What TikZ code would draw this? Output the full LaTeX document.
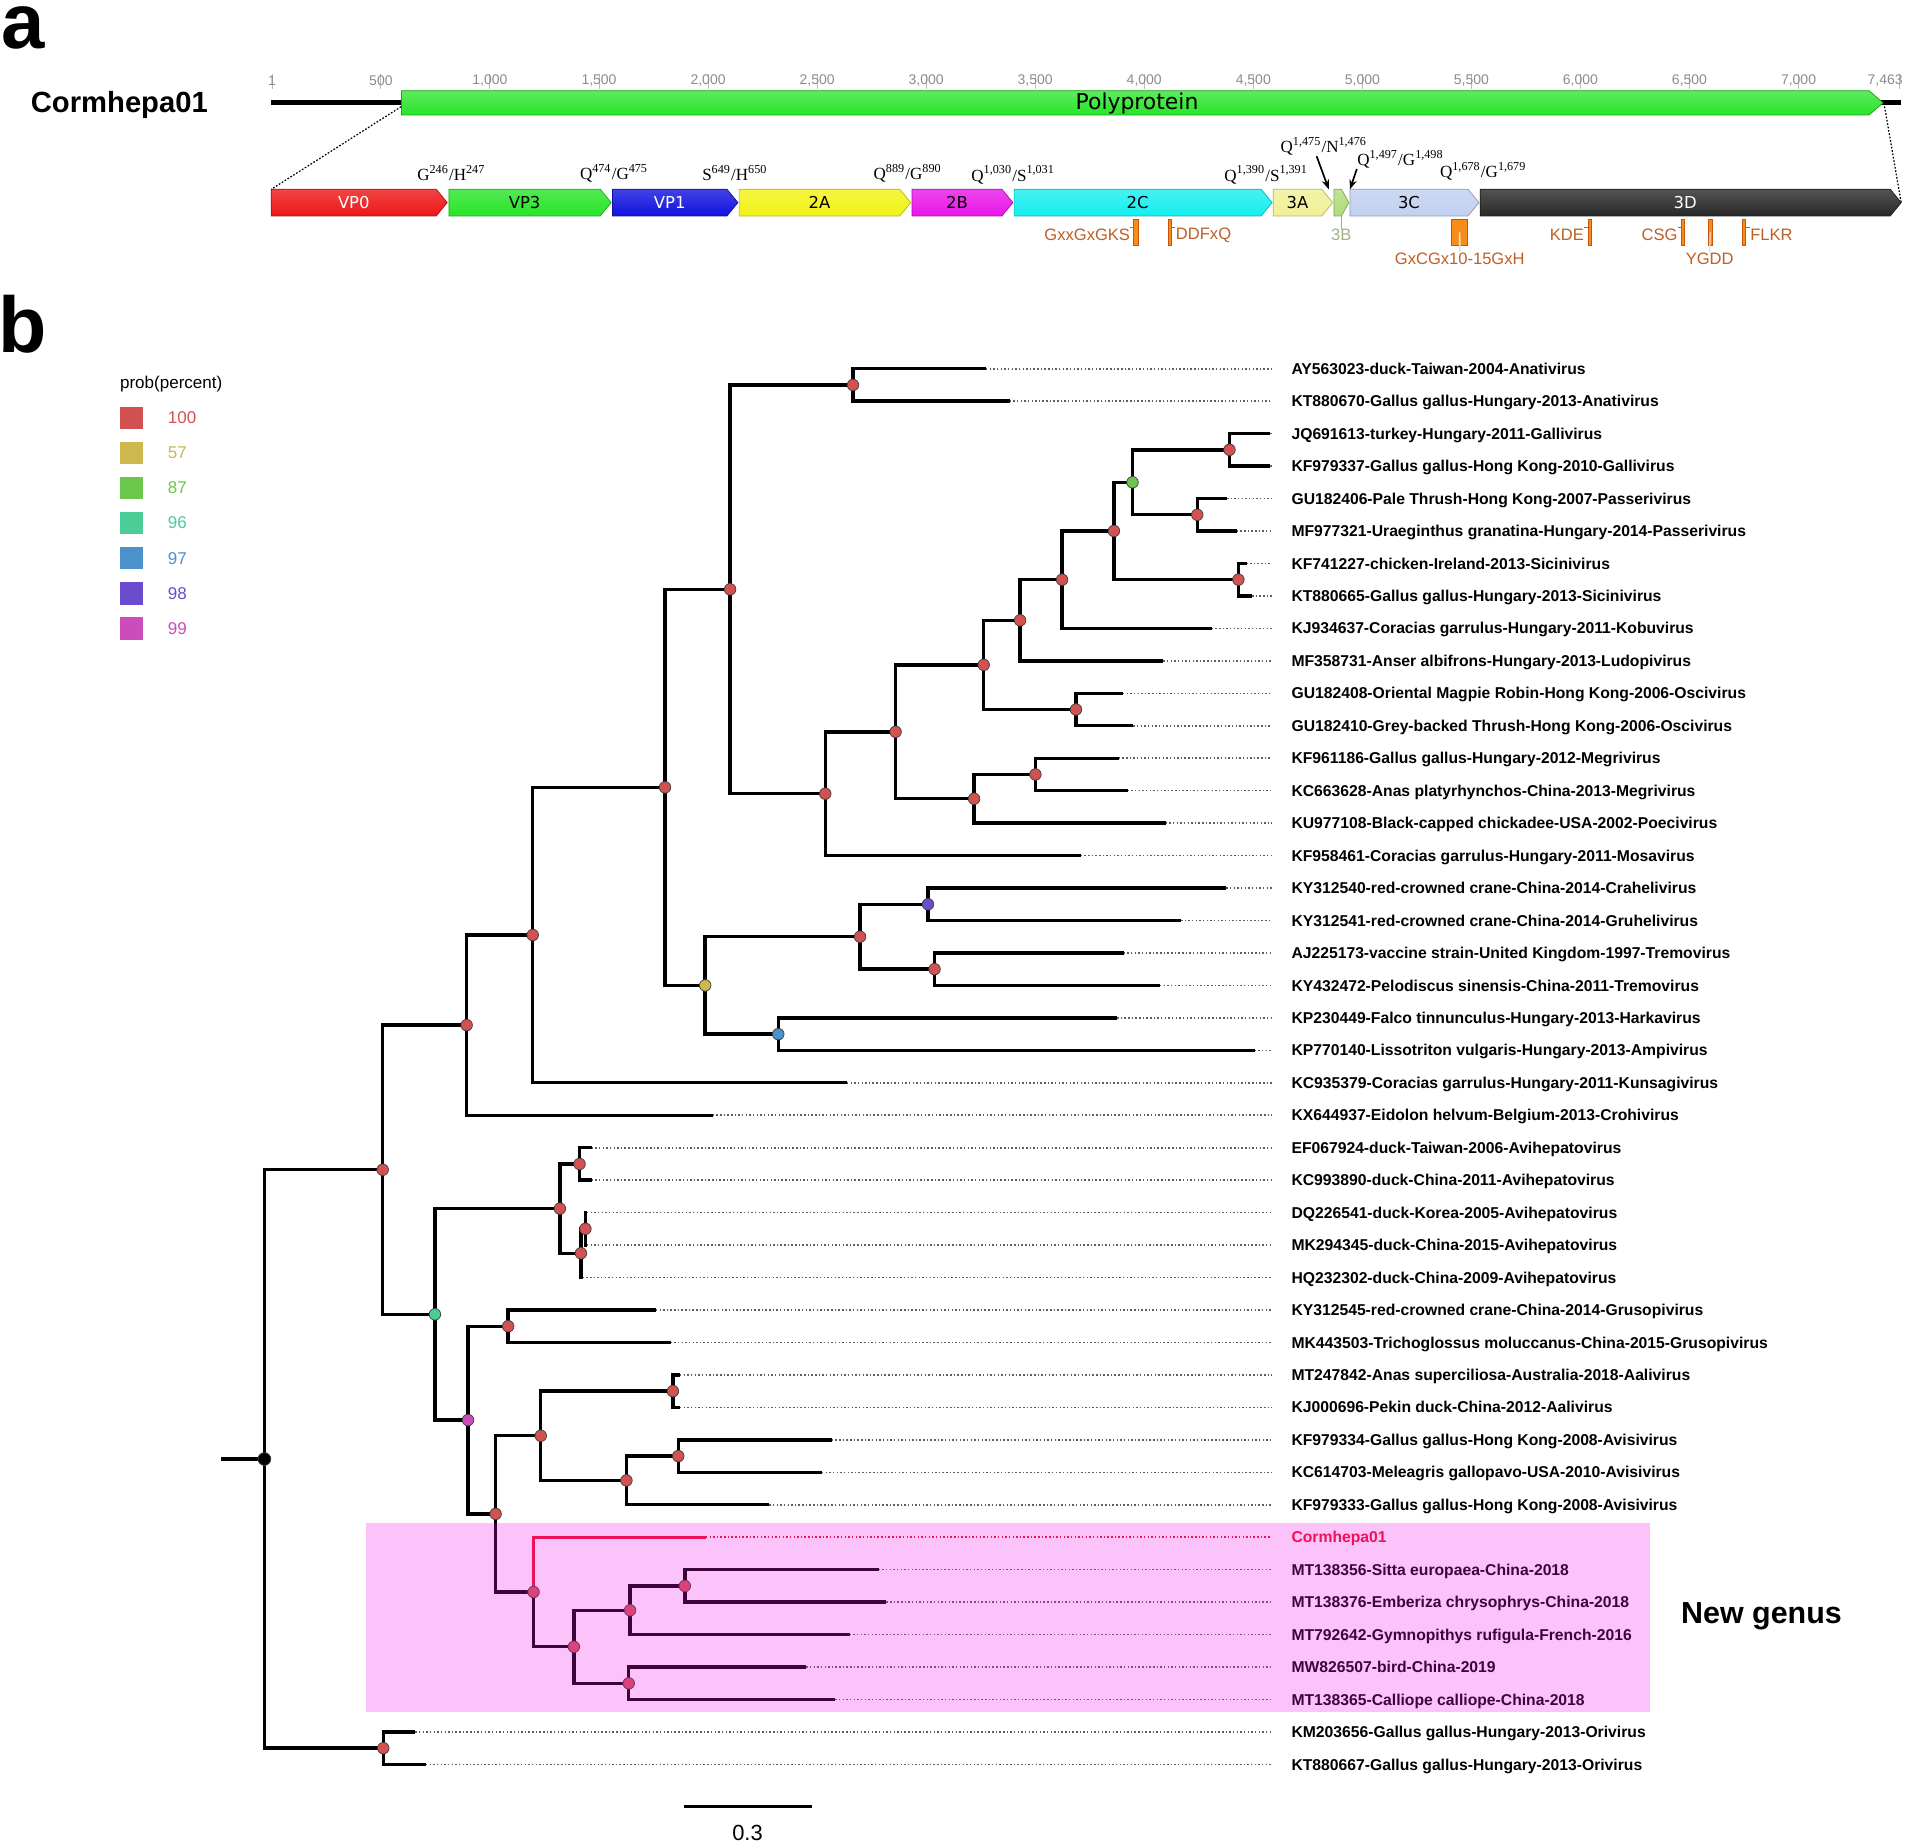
\documentclass[tikz,border=0pt]{standalone}
\usepackage{fontspec}
\setmainfont{Liberation Sans}
\newfontfamily\dvs{DejaVu Sans}
\newfontfamily\tms{Liberation Serif}
\usetikzlibrary{arrows.meta,calc}
\definecolor{c100}{RGB}{210,82,82}
\definecolor{c57}{RGB}{204,184,76}
\definecolor{c87}{RGB}{108,200,76}
\definecolor{c96}{RGB}{76,204,150}
\definecolor{c97}{RGB}{76,144,204}
\definecolor{c98}{RGB}{106,76,204}
\definecolor{c99}{RGB}{204,76,187}
\definecolor{motif}{RGB}{190,95,35}
\definecolor{mbarfill}{RGB}{248,140,25}
\definecolor{mbardraw}{RGB}{200,85,10}
\definecolor{cormred}{RGB}{235,20,40}
\definecolor{pinkov}{RGB}{243,19,235}
\definecolor{dotgray}{RGB}{95,95,95}
\definecolor{tickgray}{RGB}{140,140,140}
\definecolor{sVP0}{RGB}{236,22,22}
\definecolor{sVP3}{RGB}{40,228,40}
\definecolor{sVP1}{RGB}{18,18,222}
\definecolor{s2A}{RGB}{242,242,20}
\definecolor{s2B}{RGB}{232,22,232}
\definecolor{s2C}{RGB}{22,238,238}
\definecolor{s3A}{RGB}{240,240,150}
\definecolor{s3B}{RGB}{175,220,120}
\definecolor{s3C}{RGB}{192,208,240}
\definecolor{s3D}{RGB}{40,40,40}
\definecolor{polyg}{RGB}{40,228,40}
\definecolor{lab3B}{RGB}{160,178,130}
\newcommand{\fsz}[1]{\fontsize{#1}{#1}\selectfont}
\newcommand{\gseg}[7]{%
  \path[top color=#4!80!white,bottom color=#4,draw=#4!75!black,line width=0.3pt]
    (#2,155.5) -- ({#3-#7},155.5) -- (#3,166.5) -- ({#3-#7},177.5) -- (#2,177.5) -- cycle;
  \node[segl,text=#6] (#1) at ({(#2+#3-#7)/2},166.5) {#5};
}
\begin{document}
\begin{tikzpicture}[x=0.5pt,y=-0.5pt,
  br/.style={line width=1.4pt,line join=miter,line cap=butt},
  dotl/.style={line width=0.65pt,dash pattern=on 0.6pt off 0.9pt},
  pn/.style={circle,draw=black!75,line width=0.3pt,fill=#1,minimum size=4.75pt,inner sep=0pt},
  leaf/.style={anchor=base west,inner sep=0pt,font=\bfseries\fsz{6.45pt}},
  segl/.style={font=\dvs\fsz{6.75pt},inner sep=0pt},
  clv/.style={font=\tms\fsz{7pt},inner sep=0pt},
  mtxt/.style={font=\fsz{6.8pt},text=motif,inner sep=0pt},
  mbar/.style={fill=mbarfill,draw=mbardraw,line width=0.3pt,inner sep=0pt,minimum height=10.6pt},
  tickl/.style={font=\fsz{5.75pt},text=tickgray,inner sep=0pt},
  lsq/.style={minimum width=9.5pt,minimum height=9.3pt,inner sep=0pt},
]
\useasboundingbox[fill=white] (0,0) rectangle (1568,1515.4);

% ---------------- panel a ----------------
\node[anchor=base west,inner sep=0pt,font=\bfseries\fsz{32pt}] (pa) at (0.5,39.5) {a};
\node[anchor=base west,inner sep=0pt,font=\bfseries\fsz{12pt}] (gname) at (25,92.6) {Cormhepa01};

% ruler
\foreach \n/\t in {1/1,500/500,1000/{1,000},1500/{1,500},2000/{2,000},2500/{2,500},3000/{3,000},3500/{3,500},4000/{4,000},4500/{4,500},5000/{5,000},5500/{5,500},6000/{6,000},6500/{6,500},7000/{7,000}}{
  \pgfmathsetmacro\xx{223.6+(\n-1)*0.17923}
  \draw[tickgray!60,line width=0.4pt] (\xx,61) -- (\xx,73);
  \node[tickl] (tk\n) at (\xx,66) {\t};
}
\draw[tickgray!60,line width=0.4pt] (1561,61) -- (1561,73);
\node[tickl,anchor=east] (tk7463) at (1564,66) {7,463};

% genome and polyprotein
\coordinate (gs) at (223,84.5);
\coordinate (ps) at (330,84.5);
\coordinate (pe) at (1546,84.5);
\coordinate (ge) at (1562.5,84.5);
\draw[line width=2pt] (gs) -- (ps);
\draw[line width=2pt] (pe) -- (ge);
\path[top color=polyg!75!white,bottom color=polyg,draw=polyg!70!black,line width=0.3pt]
  (330,74.5) -- (1536,74.5) -- (1547.5,84.5) -- (1536,94.5) -- (330,94.5) -- cycle;
\node[font=\dvs\fsz{9pt},inner sep=0pt] (poly) at (934.4,85) {Polyprotein};

% segments
\gseg{gVP0}{223}{367.5}{sVP0}{VP0}{white}{9}
\gseg{gVP3}{368.9}{502.3}{sVP3}{VP3}{black}{9}
\gseg{gVP1}{503.3}{606.4}{sVP1}{VP1}{white}{9}
\gseg{g2A}{607.4}{748.4}{s2A}{2A}{black}{9}
\gseg{g2B}{749.5}{832.4}{s2B}{2B}{black}{9}
\gseg{g2C}{833.4}{1045.4}{s2C}{2C}{black}{9}
\gseg{g3A}{1046.4}{1095.2}{s3A}{3A}{black}{9}
\gseg{g3B}{1096.2}{1108.4}{s3B}{}{black}{6}
\gseg{g3C}{1109.4}{1215.4}{s3C}{3C}{black}{9}
\gseg{g3D}{1216.4}{1562.4}{s3D}{3D}{white}{9}

% zoom lines
\coordinate (pz1) at (329.6,87.7);
\coordinate (pz2) at (1548.7,87.5);
\coordinate (v0tl) at (223,155.5);
\coordinate (d3tip) at (1562.4,166.5);
\draw[line width=0.5pt,dash pattern=on 0.7pt off 0.7pt] (pz1) -- (v0tl);
\draw[line width=0.5pt,dash pattern=on 0.7pt off 0.7pt] (pz2) -- (d3tip);

% cleavage sites
\node[clv] (c246) at (371,142.4) {G\textsuperscript{246}/H\textsuperscript{247}};
\node[clv] (c474) at (504.7,142.4) {Q\textsuperscript{474}/G\textsuperscript{475}};
\node[clv] (c649) at (604,142.4) {S\textsuperscript{649}/H\textsuperscript{650}};
\node[clv] (c889) at (746,142.4) {Q\textsuperscript{889}/G\textsuperscript{890}};
\node[clv] (c1030) at (832.7,143.8) {Q\textsuperscript{1,030}/S\textsuperscript{1,031}};
\node[clv] (c1390) at (1040.6,143.8) {Q\textsuperscript{1,390}/S\textsuperscript{1,391}};
\node[clv] (c1475) at (1088,120.5) {Q\textsuperscript{1,475}/N\textsuperscript{1,476}};
\node[clv] (c1497) at (1151,131) {Q\textsuperscript{1,497}/G\textsuperscript{1,498}};
\node[clv] (c1678) at (1219,141) {Q\textsuperscript{1,678}/G\textsuperscript{1,679}};
\coordinate (a1) at (1092,155.6);
\coordinate (a2) at (1109.4,155.6);
\draw[line width=0.7pt,-{Stealth[length=4pt,width=3pt]}] ([xshift=-3pt]c1475.south) -- (a1);
\draw[line width=0.7pt,-{Stealth[length=4pt,width=3pt]}] (c1497.south west) -- (a2);

% motifs
\node[mbar,minimum width=2pt] (bGK) at (933.8,190.8) {};
\node[mbar,minimum width=1.3pt] (bDD) at (961.2,190.8) {};
\node[mbar,minimum width=6.5pt] (bGC) at (1199.5,190.8) {};
\node[mbar,minimum width=1.3pt] (bKD) at (1306.4,190.8) {};
\node[mbar,minimum width=1.3pt] (bCS) at (1383.1,190.8) {};
\node[mbar,minimum width=1.5pt] (bYG) at (1405.4,190.8) {};
\node[mbar,minimum width=1.3pt] (bFL) at (1433.3,190.8) {};
\node[mtxt,anchor=east] (tGK) at (929,193) {GxxGxGKS};
\node[mtxt,anchor=west] (tDD) at (966,193) {DDFxQ};
\node[mtxt] (tGC) at (1199.6,212.3) {GxCGx10-15GxH};
\node[mtxt,anchor=east] (tKD) at (1302,193) {KDE};
\node[mtxt,anchor=east] (tCS) at (1379,193) {CSG};
\node[mtxt] (tYG) at (1405,212.3) {YGDD};
\node[mtxt,anchor=west] (tFL) at (1438,193) {FLKR};
\draw[motif,line width=0.3pt] ([yshift=3pt]tGK.east) -- ([yshift=3pt]tGK.east -| bGK.west);
\draw[motif,line width=0.3pt] ([yshift=3pt]tDD.west) -- ([yshift=3pt]tDD.west -| bDD.east);
\draw[motif,line width=0.3pt] ([yshift=3pt]tKD.east) -- ([yshift=3pt]tKD.east -| bKD.west);
\draw[motif,line width=0.3pt] ([yshift=3pt]tCS.east) -- ([yshift=3pt]tCS.east -| bCS.west);
\draw[motif,line width=0.3pt] ([yshift=3pt]tFL.west) -- ([yshift=3pt]tFL.west -| bFL.east);
\draw[white!75!gray,line width=0.7pt] (bGC.center) -- (tGC.north);
\draw[white!75!gray,line width=0.5pt] (bYG.center) -- (tYG.north);
\node[font=\fsz{6.8pt},text=lab3B,inner sep=0pt] (t3B) at (1102.3,193) {3B};
\coordinate (b3bot) at (1102.3,177.5);
\draw[lab3B,line width=0.4pt] (b3bot) -- (t3B.north);

% ---------------- panel b ----------------
\node[anchor=base west,inner sep=0pt,font=\bfseries\fsz{32.5pt}] (pb) at (-1.5,290) {b};

% legend
\node[anchor=west,inner sep=0pt,font=\fsz{7pt}] (lgt) at (98.3,316) {prob(percent)};
\foreach \v/\c [count=\k from 0] in {100/c100,57/c57,87/c87,96/c96,97/c97,98/c98,99/c99}{
  \node[lsq,fill=\c] (sq\v) at (107.85,{343.5+28.8*\k}) {};
  \node[anchor=west,inner sep=0pt,text=\c,font=\fsz{7pt}] (lv\v) at (137.6,{343.5+28.8*\k}) {\v};
}

% leaves
\foreach \i/\tx/\lab/\lc/\dc in {
 1/810.3/AY563023-duck-Taiwan-2004-Anativirus/black/dotgray,
 2/829.7/KT880670-Gallus gallus-Hungary-2013-Anativirus/black/dotgray,
 3/1044/JQ691613-turkey-Hungary-2011-Gallivirus/black/dotgray,
 4/1044/KF979337-Gallus gallus-Hong Kong-2010-Gallivirus/black/dotgray,
 5/1008.4/GU182406-Pale Thrush-Hong Kong-2007-Passerivirus/black/dotgray,
 6/1016.4/MF977321-Uraeginthus granatina-Hungary-2014-Passerivirus/black/dotgray,
 7/1024.4/KF741227-chicken-Ireland-2013-Sicinivirus/black/dotgray,
 8/1029/KT880665-Gallus gallus-Hungary-2013-Sicinivirus/black/dotgray,
 9/995.8/KJ934637-Coracias garrulus-Hungary-2011-Kobuvirus/black/dotgray,
 10/956/MF358731-Anser albifrons-Hungary-2013-Ludopivirus/black/dotgray,
 11/922.8/GU182408-Oriental Magpie Robin-Hong Kong-2006-Oscivirus/black/dotgray,
 12/931.4/GU182410-Grey-backed Thrush-Hong Kong-2006-Oscivirus/black/dotgray,
 13/919.4/KF961186-Gallus gallus-Hungary-2012-Megrivirus/black/dotgray,
 14/926.7/KC663628-Anas platyrhynchos-China-2013-Megrivirus/black/dotgray,
 15/957.9/KU977108-Black-capped chickadee-USA-2002-Poecivirus/black/dotgray,
 16/888.2/KF958461-Coracias garrulus-Hungary-2011-Mosavirus/black/dotgray,
 17/1007.8/KY312540-red-crowned crane-China-2014-Crahelivirus/black/dotgray,
 18/970.6/KY312541-red-crowned crane-China-2014-Gruhelivirus/black/dotgray,
 19/923.4/AJ225173-vaccine strain-United Kingdom-1997-Tremovirus/black/dotgray,
 20/953.3/KY432472-Pelodiscus sinensis-China-2011-Tremovirus/black/dotgray,
 21/918.1/KP230449-Falco tinnunculus-Hungary-2013-Harkavirus/black/dotgray,
 22/1031/KP770140-Lissotriton vulgaris-Hungary-2013-Ampivirus/black/dotgray,
 23/696/KC935379-Coracias garrulus-Hungary-2011-Kunsagivirus/black/dotgray,
 24/585.8/KX644937-Eidolon helvum-Belgium-2013-Crohivirus/black/dotgray,
 25/486.2/EF067924-duck-Taiwan-2006-Avihepatovirus/black/dotgray,
 26/486.2/KC993890-duck-China-2011-Avihepatovirus/black/dotgray,
 27/482.4/DQ226541-duck-Korea-2005-Avihepatovirus/black/dotgray,
 28/482.4/MK294345-duck-China-2015-Avihepatovirus/black/dotgray,
 29/478.9/HQ232302-duck-China-2009-Avihepatovirus/black/dotgray,
 30/539/KY312545-red-crowned crane-China-2014-Grusopivirus/black/dotgray,
 31/551.1/MK443503-Trichoglossus moluccanus-China-2015-Grusopivirus/black/dotgray,
 32/558.8/MT247842-Anas superciliosa-Australia-2018-Aalivirus/black/dotgray,
 33/558.8/KJ000696-Pekin duck-China-2012-Aalivirus/black/dotgray,
 34/683.6/KF979334-Gallus gallus-Hong Kong-2008-Avisivirus/black/dotgray,
 35/675.5/KC614703-Meleagris gallopavo-USA-2010-Avisivirus/black/dotgray,
 36/632.2/KF979333-Gallus gallus-Hong Kong-2008-Avisivirus/black/dotgray,
 37/580.1/Cormhepa01/cormred/cormred,
 38/722.1/MT138356-Sitta europaea-China-2018/black/dotgray,
 39/728.5/MT138376-Emberiza chrysophrys-China-2018/black/dotgray,
 40/698.2/MT792642-Gymnopithys rufigula-French-2016/black/dotgray,
 41/662.6/MW826507-bird-China-2019/black/dotgray,
 42/686.5/MT138365-Calliope calliope-China-2018/black/dotgray,
 43/341.3/KM203656-Gallus gallus-Hungary-2013-Orivirus/black/dotgray,
 44/350.1/KT880667-Gallus gallus-Hungary-2013-Orivirus/black/dotgray}{
  \pgfmathsetmacro\yy{303+(\i-1)*26.674}
  \coordinate (t\i) at (\tx,\yy);
  \node[leaf,text=\lc] (l\i) at (1061,\yy+4.6) {\lab};
  \draw[dotl,\dc,shorten >=8pt] (t\i) -- (t\i -| l\i.west);
}

% internal nodes
\coordinate (Rt) at (217.3,1199.0);
\coordinate (A) at (314.5,961.3);
\coordinate (AP) at (315,1436.65);
\coordinate (B) at (383.5,842.45);
\coordinate (C) at (357.4,1080.1);
\coordinate (D) at (437.8,768.4);
\coordinate (E) at (546.5,647.05);
\coordinate (F) at (600,484.3);
\coordinate (G) at (579.5,809.8);
\coordinate (H) at (701,316.35);
\coordinate (I) at (678.2,652.25);
\coordinate (J) at (736,601.4);
\coordinate (K) at (808.4,546.4);
\coordinate (L) at (800.5,656.4);
\coordinate (M) at (838.3,509.75);
\coordinate (N) at (884.2,583.05);
\coordinate (O) at (872.8,476.4);
\coordinate (P) at (915.4,436.35);
\coordinate (Q) at (930.7,396.35);
\coordinate (R) at (1017.7,476.35);
\coordinate (S) at (1010.4,369.65);
\coordinate (T) at (983.9,423.05);
\coordinate (U) at (850.9,636.45);
\coordinate (V) at (706.8,769.8);
\coordinate (W) at (762.6,743.15);
\coordinate (X) at (768,796.45);
\coordinate (Yb) at (639.6,849.85);
\coordinate (AA) at (460.1,993.2);
\coordinate (AB) at (476.3,956.55);
\coordinate (AC) at (477.4,1029.9);
\coordinate (AD) at (481.1,1009.85);
\coordinate (AE) at (417.6,1089.9);
\coordinate (AF) at (384.6,1167.0);
\coordinate (AG) at (444.4,1179.9);
\coordinate (Z) at (553,1143.25);
\coordinate (AH) at (514.8,1216.6);
\coordinate (AI) at (557.4,1196.6);
\coordinate (AJ) at (407.3,1244.1);
\coordinate (AK) at (438.5,1308.3);
\coordinate (AL) at (471.6,1353.3);
\coordinate (AM) at (517.8,1323.3);
\coordinate (AN) at (562.8,1303.3);
\coordinate (AO) at (516.7,1383.35);
\coordinate (rs) at (182,1199.0);

% branches
\draw[br] (rs) -- (Rt);
\foreach \p/\a/\b in {Rt/A/AP, A/B/C, B/D/t24, D/E/t23, E/F/G, F/H/I, H/t1/t2, I/J/t16, J/K/L, K/M/N, M/O/t10, O/P/t9, P/Q/R, Q/S/T, S/t3/t4, T/t5/t6, R/t7/t8, N/t11/t12, L/U/t15, U/t13/t14, G/V/Yb, V/W/X, W/t17/t18, X/t19/t20, Yb/t21/t22, C/AA/AF, AA/AB/AC, AB/t25/t26, AC/AD/t29, AD/t27/t28, AF/AE/AJ, AE/t30/t31, AJ/AG/AK, AG/Z/AH, Z/t32/t33, AH/AI/t36, AI/t34/t35, AL/AM/AO, AM/AN/t40, AN/t38/t39, AO/t41/t42, AP/t43/t44}{
  \draw[br] (\a) -| (\p) |- (\b);
}
\draw[br,cormred] (t37) -| (AK);
\draw[br] (AK) |- (AL);

% node markers
\foreach \n/\c in {A/c100, AP/c100, B/c100, C/c96, D/c100, E/c100, F/c100, G/c57, H/c100, I/c100, J/c100, K/c100, L/c100, M/c100, N/c100, O/c100, P/c100, Q/c87, R/c100, S/c100, T/c100, U/c100, V/c100, W/c98, X/c100, Yb/c97, AA/c100, AB/c100, AC/c100, AD/c100, AE/c100, AF/c99, AG/c100, Z/c100, AH/c100, AI/c100, AJ/c100, AK/c100, AL/c100, AM/c100, AN/c100, AO/c100}{
  \node[pn=\c] (m\n) at (\n) {};
}
\node[pn=black,minimum size=5.25pt] (mRt) at (Rt) {};

% new genus highlight
\path[fill=pinkov,fill opacity=0.25] (300.5,1251.4) rectangle (1356,1407);
\node[font=\bfseries\fsz{12.5pt},inner sep=0pt] (ng) at (1447.6,1328.6) {New genus};

% scale bar
\coordinate (sb1) at (561.8,1484.8);
\coordinate (sb2) at (666.9,1484.8);
\draw[line width=1.3pt] (sb1) -- (sb2);
\node[font=\fsz{9pt},inner sep=0pt] (sbl) at (614.3,1506) {0.3};
\end{tikzpicture}
\end{document}
